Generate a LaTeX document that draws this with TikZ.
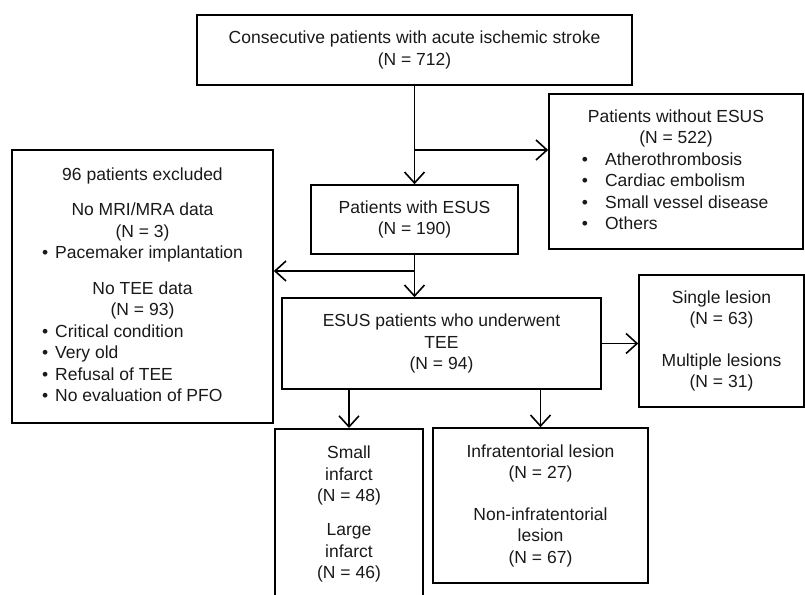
\documentclass[tikz,border=0pt]{standalone}
\usepackage{fontspec}
\setmainfont{Liberation Sans}
\usetikzlibrary{arrows.meta}
\newcommand{\ctrline}[1]{\multicolumn{1}{c}{#1}}

\begin{document}
\begin{tikzpicture}[x=1pt, y=-1pt,
    box/.style={draw=black, rectangle, line width=1.6pt, align=center, inner sep=0pt, text=black!90, font=\fontsize{17.5}{21.5}\selectfont},
    arrow/.style={-{Straight Barb[length=11pt, width=20pt, line width=1.6pt]}, line width=1.6pt}
]
\useasboundingbox (0,0) rectangle (805,594);
\node[box, minimum width=435pt, minimum height=70pt] (stroke) at (414.5,50) {Consecutive patients with acute ischemic stroke\\(N = 712)};
\node[box, minimum width=254pt, minimum height=155pt] (noesus) at (676,171.5) {\begin{tabular}{@{}l@{}}
\ctrline{Patients without ESUS}\\
\ctrline{(N = 522)}\\
\textbullet\hspace{17pt}Atherothrombosis\\
\textbullet\hspace{17pt}Cardiac embolism\\
\textbullet\hspace{17pt}Small vessel disease\\
\textbullet\hspace{17pt}Others
\end{tabular}};
\node[box, minimum width=207pt, minimum height=69pt] (esus) at (414.5,219.5) {Patients with ESUS\\(N = 190)};
\node[box, minimum width=261pt, minimum height=273pt] (excluded) at (142.5,286.5) {\begin{tabular}{@{}l@{}}
\ctrline{96 patients excluded}\\[14pt]
\ctrline{No MRI/MRA data}\\
\ctrline{(N = 3)}\\
\textbullet\hspace{7pt}Pacemaker implantation\\[14pt]
\ctrline{No TEE data}\\
\ctrline{(N = 93)}\\
\textbullet\hspace{7pt}Critical condition\\
\textbullet\hspace{7pt}Very old\\
\textbullet\hspace{7pt}Refusal of TEE\\
\textbullet\hspace{7pt}No evaluation of PFO
\end{tabular}};
\node[box, minimum width=319pt, minimum height=91pt] (tee) at (441.5,343.5) {ESUS patients who underwent\\TEE\\(N = 94)};
\node[box, minimum width=165pt, minimum height=132pt] (lesions) at (721.5,341) {Single lesion\\(N = 63)\\[20pt]Multiple lesions\\(N = 31)};
\node[box, minimum width=148pt, minimum height=171pt, anchor=north] (infarct) at (349,428) {Small\\infarct\\(N = 48)\\[12.5pt]Large\\infarct\\(N = 46)};
\node[box, minimum width=215pt, minimum height=155pt] (infra) at (540.5,505.5) {Infratentorial lesion\\(N = 27)\\[20pt]Non-infratentorial\\lesion\\(N = 67)};

\coordinate (split1) at (esus.north |- 0,150);
\coordinate (split2) at (esus.south |- 0,271);

\draw[arrow] (esus.north |- stroke.south) -- (esus.north);
\draw[arrow] (split1) -- (split1 -| noesus.west);
\draw[arrow] (esus.south) -- (esus.south |- tee.north);
\draw[arrow] (split2) -- (split2 -| excluded.east);
\draw[arrow] (tee.east) -- (tee.east -| lesions.west);
\draw[arrow] (tee.south -| infarct.north) -- (infarct.north);
\draw[arrow] (tee.south -| infra.north) -- (infra.north);
\end{tikzpicture}
\end{document}
